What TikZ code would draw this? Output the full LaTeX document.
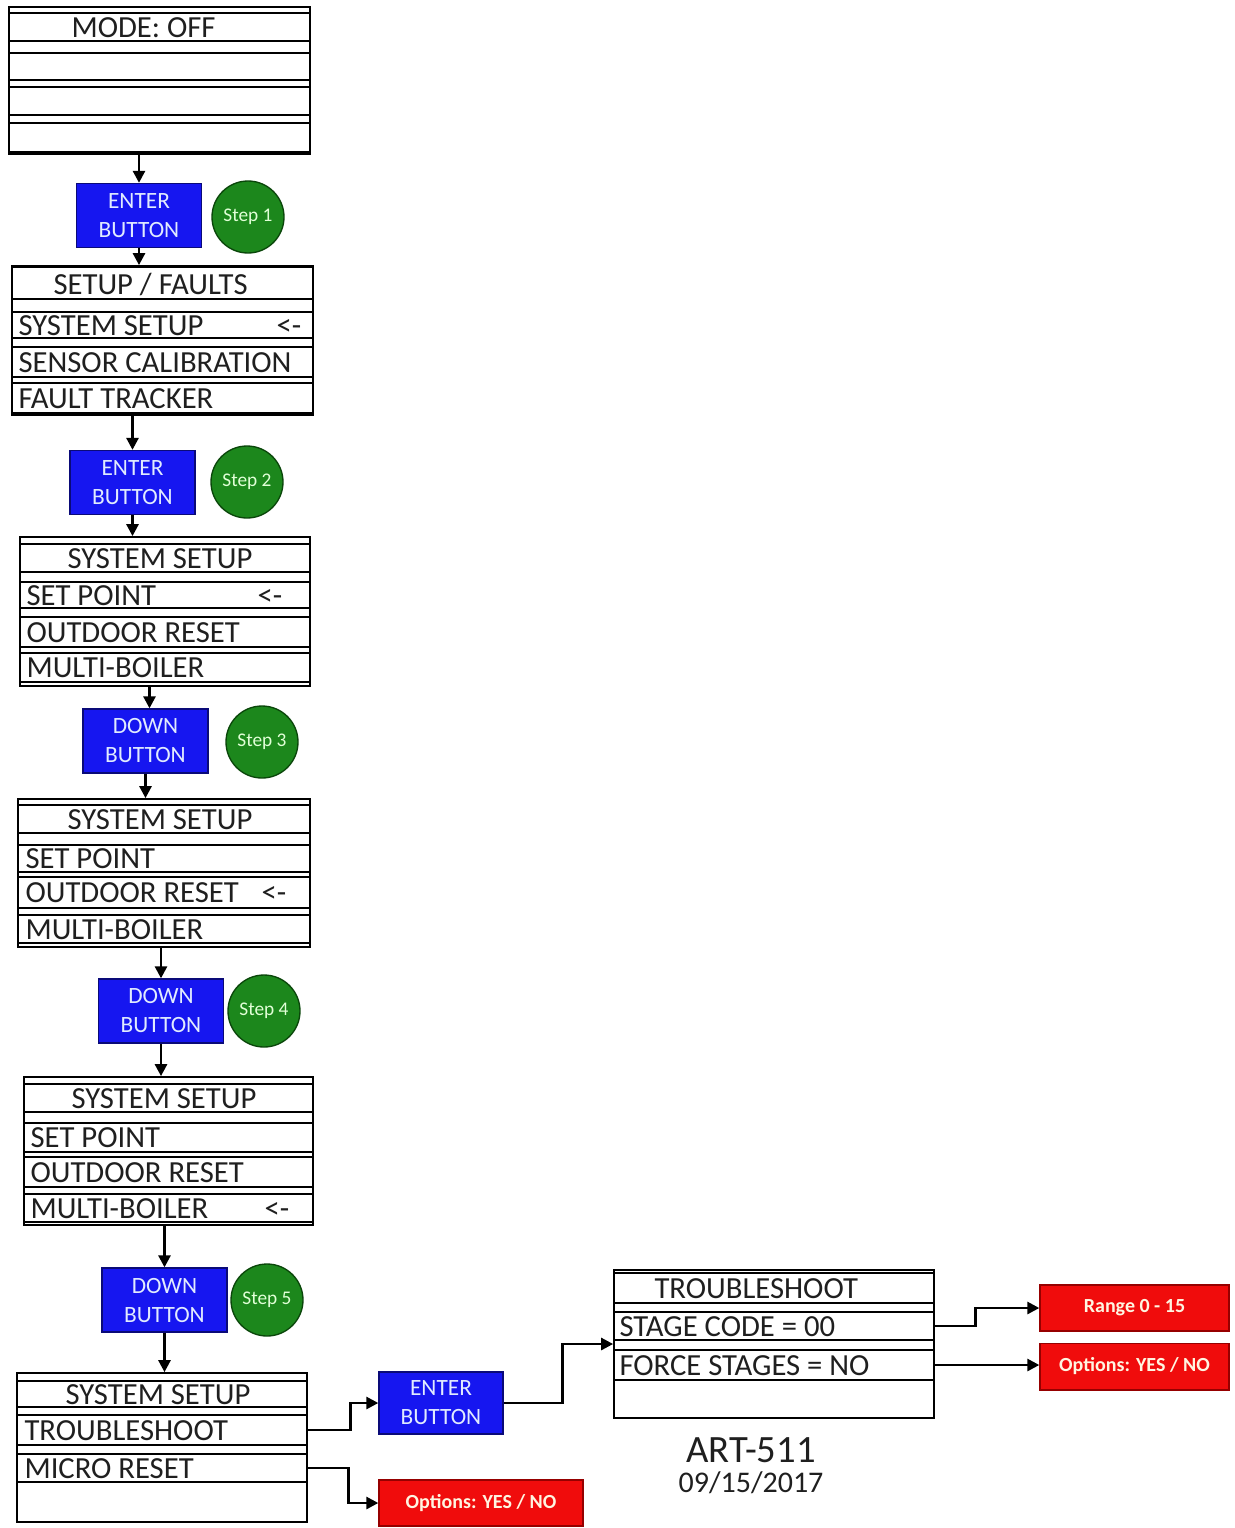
\documentclass[tikz,border=0pt]{standalone}
\usepackage{fontspec}
\setmainfont{Carlito}
\usetikzlibrary{fit,calc,arrows.meta}
\begin{document}
\begin{tikzpicture}[x=0.75pt,y=-0.75pt]
\tikzset{
  frame/.style={draw=black, line width=1.3pt, inner sep=0pt},
  row/.style={draw=black, line width=1.1pt, inner sep=0pt},
  mtxt/.style={inner sep=0pt, anchor=base west, font=\fontsize{23}{27}\selectfont, text=black!88},
  btn/.style={draw={rgb,255:red,10;green,10;blue,120}, line width=1pt, fill={rgb,255:red,22;green,22;blue,240}, inner sep=0pt, text={rgb,255:red,225;green,235;blue,255}, align=center, font=\fontsize{17.5}{21.75}\selectfont, minimum width=93.75pt, minimum height=48pt},
  stepc/.style={circle, draw={rgb,255:red,10;green,70;blue,10}, line width=1pt, fill={rgb,255:red,28;green,135;blue,28}, minimum size=54pt, inner sep=0pt, text={rgb,255:red,225;green,255;blue,215}, font=\fontsize{14.5}{16}\selectfont},
  redb/.style={draw={rgb,255:red,150;green,0;blue,0}, line width=1pt, fill={rgb,255:red,240;green,12;blue,12}, inner sep=0pt, text={rgb,255:red,255;green,245;blue,225}, font=\bfseries\fontsize{15}{18}\selectfont, minimum height=35pt},
  arr/.style={draw=black, line width=2pt, -{Triangle[length=9pt,width=9pt]}},
}
\useasboundingbox (0,0) rectangle (1235,1528);

% ---------- Box 1 : MODE OFF
\node[frame, fit={(9,7)(310,154)}] (b1) {};
\node[row, fit={(9,13)(310,41)}] (b1t) {};
\node[row, fit={(9,53)(310,80)}] (b1r1) {};
\node[row, fit={(9,87)(310,115)}] (b1r2) {};
\node[row, fit={(9,123)(310,152)}] (b1r3) {};
\node[mtxt] (b1tx) at ($(b1t.west)+(63,10)$) {MODE: OFF};

% ---------- Box 2 : SETUP / FAULTS
\node[frame, fit={(12,266)(313,415)}] (b2) {};
\node[row, fit={(12,267)(313,299)}] (b2t) {};
\node[row, fit={(12,312)(313,338)}] (b2r1) {};
\node[row, fit={(12,347)(313,377)}] (b2r2) {};
\node[row, fit={(12,383)(313,413)}] (b2r3) {};
\node[mtxt] (b2tx) at ($(b2t.west)+(42,11)$) {SETUP / FAULTS};
\node[mtxt] (b2a) at ($(b2r1.west)+(7,10)$) {SYSTEM SETUP};
\node[mtxt] (b2m) at ($(b2r1.west)+(265,10)$) {<-};
\node[mtxt] (b2b) at ($(b2r2.west)+(7,10)$) {SENSOR CALIBRATION};
\node[mtxt] (b2c) at ($(b2r3.west)+(7,10)$) {FAULT TRACKER};

% ---------- Box 3
\node[frame, fit={(20,537)(310,686)}] (b3) {};
\node[row, fit={(20,544)(310,572)}] (b3t) {};
\node[row, fit={(20,582)(310,608)}] (b3r1) {};
\node[row, fit={(20,617)(310,647)}] (b3r2) {};
\node[row, fit={(20,653)(310,682)}] (b3r3) {};
\node[mtxt] (b3tx) at ($(b3t.west)+(48,10)$) {SYSTEM SETUP};
\node[mtxt] (b3a) at ($(b3r1.west)+(7,10)$) {SET POINT};
\node[mtxt] (b3m) at ($(b3r1.west)+(238,10)$) {<-};
\node[mtxt] (b3b) at ($(b3r2.west)+(7,10)$) {OUTDOOR RESET};
\node[mtxt] (b3c) at ($(b3r3.west)+(7,10)$) {MULTI-BOILER};

% ---------- Box 4
\node[frame, fit={(18,799)(310,947)}] (b4) {};
\node[row, fit={(18,805)(310,833)}] (b4t) {};
\node[row, fit={(18,845)(310,872)}] (b4r1) {};
\node[row, fit={(18,877)(310,908)}] (b4r2) {};
\node[row, fit={(18,915)(310,943)}] (b4r3) {};
\node[mtxt] (b4tx) at ($(b4t.west)+(50,10)$) {SYSTEM SETUP};
\node[mtxt] (b4a) at ($(b4r1.west)+(8,10)$) {SET POINT};
\node[mtxt] (b4b) at ($(b4r2.west)+(8,10)$) {OUTDOOR RESET};
\node[mtxt] (b4m) at ($(b4r2.west)+(244,10)$) {<-};
\node[mtxt] (b4c) at ($(b4r3.west)+(8,10)$) {MULTI-BOILER};

% ---------- Box 5
\node[frame, fit={(24,1077)(313,1225)}] (b5) {};
\node[row, fit={(24,1084)(313,1112)}] (b5t) {};
\node[row, fit={(24,1123)(313,1152)}] (b5r1) {};
\node[row, fit={(24,1157)(313,1187)}] (b5r2) {};
\node[row, fit={(24,1194)(313,1222)}] (b5r3) {};
\node[mtxt] (b5tx) at ($(b5t.west)+(48,10)$) {SYSTEM SETUP};
\node[mtxt] (b5a) at ($(b5r1.west)+(7,10)$) {SET POINT};
\node[mtxt] (b5b) at ($(b5r2.west)+(7,10)$) {OUTDOOR RESET};
\node[mtxt] (b5c) at ($(b5r3.west)+(7,10)$) {MULTI-BOILER};
\node[mtxt] (b5m) at ($(b5r3.west)+(241,10)$) {<-};

% ---------- Box 6
\node[frame, fit={(17,1373)(307,1522)}] (b6) {};
\node[row, fit={(17,1381)(307,1407)}] (b6t) {};
\node[row, fit={(17,1415)(307,1445)}] (b6r1) {};
\node[row, fit={(17,1454)(307,1482)}] (b6r2) {};
\node[row, fit={(17,1482)(307,1522)}] (b6r3) {};
\node[mtxt] (b6tx) at ($(b6t.west)+(49,10)$) {SYSTEM SETUP};
\node[mtxt] (b6a) at ($(b6r1.west)+(8,10)$) {TROUBLESHOOT};
\node[mtxt] (b6b) at ($(b6r2.west)+(8,10)$) {MICRO RESET};

% ---------- Box 7 : TROUBLESHOOT
\node[frame, fit={(614,1270)(934,1418)}] (b7) {};
\node[row, fit={(614,1273)(934,1303)}] (b7t) {};
\node[row, fit={(614,1312)(934,1340)}] (b7r1) {};
\node[row, fit={(614,1350)(934,1380)}] (b7r2) {};
\node[row, fit={(614,1380)(934,1418)}] (b7r3) {};
\node[mtxt] (b7tx) at ($(b7t.west)+(41,10)$) {TROUBLESHOOT};
\node[mtxt] (b7a) at ($(b7r1.west)+(6,10)$) {STAGE CODE = 00};
\node[mtxt] (b7b) at ($(b7r2.west)+(6,10)$) {FORCE STAGES = NO};

% ---------- Buttons and steps
\node[btn] (e1) at (139,215.5) {ENTER\\BUTTON};
\node[stepc] (s1) at (248,217) {Step 1};
\node[btn] (e2) at (132.5,482.5) {ENTER\\BUTTON};
\node[stepc] (s2) at (247,482) {Step 2};
\node[btn] (d1) at (145.5,741) {DOWN\\BUTTON};
\node[stepc] (s3) at (262,742) {Step 3};
\node[btn] (d2) at (161,1011) {DOWN\\BUTTON};
\node[stepc] (s4) at (264,1011) {Step 4};
\node[btn] (d3) at (164.5,1300) {DOWN\\BUTTON};
\node[stepc] (s5) at (267,1300) {Step 5};
\node[btn, minimum width=93pt, minimum height=46.5pt] (e6) at (441,1403) {ENTER\\BUTTON};

% ---------- Red option boxes
\node[redb, minimum width=153pt, minimum height=34.5pt] (o1) at (481,1503) {Options: YES / NO};
\node[redb, minimum width=141.75pt, minimum height=34.5pt] (o2) at (1134.5,1308) {Range 0 - 15};
\node[redb, minimum width=141.75pt] (o3) at (1134.5,1366.5) {Options: YES / NO};

% ---------- Label
\node[inner sep=0pt, anchor=base, font=\fontsize{29}{30}\selectfont, text=black!88] (art) at (751,1462) {ART-511};
\node[inner sep=0pt, anchor=base, font=\fontsize{22.5}{23}\selectfont, text=black!88] (date) at (751,1492) {09/15/2017};

% ---------- Connectors
\draw[arr] (e1.north |- b1.south) -- (e1.north);
\draw[arr] (e1.south) -- (e1.south |- b2.north);
\draw[arr] (e2.north |- b2.south) -- (e2.north);
\draw[arr] (e2.south) -- (e2.south |- b3.north);
\draw[arr] ([xshift=3pt]d1.north |- b3.south) -- ([xshift=3pt]d1.north);
\draw[arr] (d1.south) -- (d1.south |- b4.north);
\draw[arr] (d2.north |- b4.south) -- (d2.north);
\draw[arr] (d2.south) -- (d2.south |- b5.north);
\draw[arr] (d3.north |- b5.south) -- (d3.north);
\draw[arr] (d3.south) -- (d3.south |- b6.north);
\draw[arr] (b6r1.east) -- ++(43,0) |- (e6.west);
\draw[arr] (b6r2.east) -- ++(41,0) |- (o1.west);
\draw[arr] (e6.east) -- ++(59,0) |- (b7.west);
\draw[arr] (b7r1.east) -- ++(41,0) |- (o2.west);
\draw[arr] (b7r2.east) -- (b7r2.east -| o3.west);
\end{tikzpicture}
\end{document}
